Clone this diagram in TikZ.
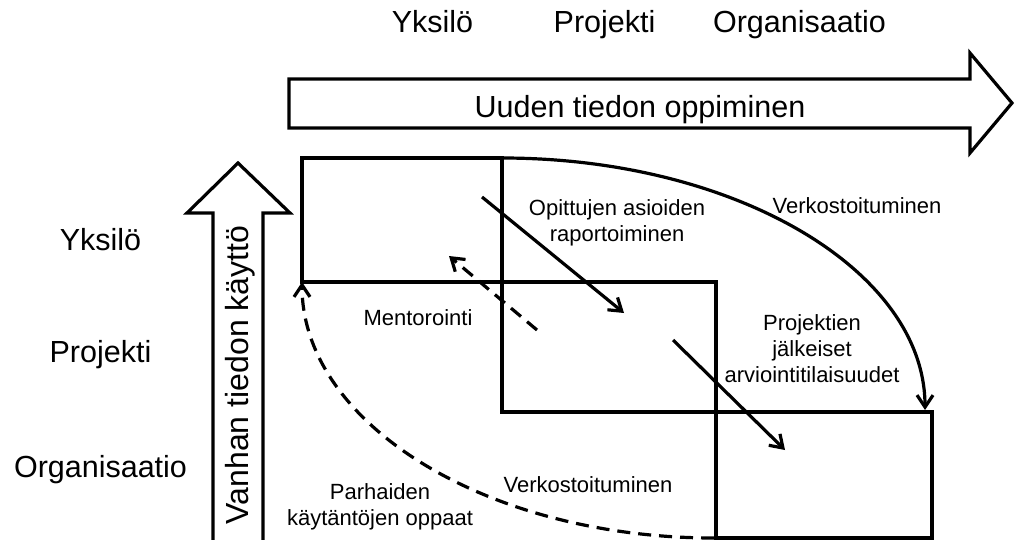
\documentclass[tikz,border=0pt]{standalone}
\usepackage{fontspec}
\setmainfont{Liberation Sans}
\usetikzlibrary{arrows.meta}
\begin{document}
\begin{tikzpicture}[x=1pt,y=-1pt,
  outline/.style={draw, line width=3.2pt, line join=miter},
  box/.style={draw, line width=3.2pt, inner sep=0pt, outer sep=0pt},
  big/.style={font=\fontsize{30.5}{36}\selectfont, inner sep=0pt},
  small/.style={font=\fontsize{22}{26}\selectfont, inner sep=0pt, align=center},
  flow/.style={line width=3.2pt, -{Straight Barb[length=12pt,width=16pt]}},
  flowdash/.style={flow, dash pattern=on 13pt off 8pt},
]
\useasboundingbox (0,0) rectangle (1016,540);
\fill[white] (0,0) rectangle (1016,540);
\clip (0,0) rectangle (1016,540);

% column headings
\node[big, anchor=base] (colY) at (432.5,33) {Yksilö};
\node[big, anchor=base] (colP) at (604.5,33) {Projekti};
\node[big, anchor=base] (colO) at (799.5,33) {Organisaatio};

% row headings
\node[big, anchor=base] (rowY) at (100.5,250) {Yksilö};
\node[big, anchor=base] (rowP) at (100.5,362) {Projekti};
\node[big, anchor=base] (rowO) at (100.5,477) {Organisaatio};

% horizontal block arrow
\draw[outline] (289,79) -- (970,79) -- (970,53) -- (1012,103) -- (970,153)
  -- (970,128) -- (289,128) -- cycle;
\node[big, anchor=base] (learn) at (640,118) {Uuden tiedon oppiminen};

% vertical block arrow
\draw[outline] (213,560) -- (213,213) -- (187,213) -- (238,163) -- (290,213)
  -- (263,213) -- (263,560);
\node[font=\fontsize{32}{38}\selectfont, inner sep=0pt, rotate=90, anchor=base]
  (use) at (248,375) {Vanhan tiedon käyttö};

% level boxes
\node[box, minimum width=200pt, minimum height=124pt] (b1) at (402,220) {};
\node[box, minimum width=214pt, minimum height=130pt] (b2) at (609,347) {};
\node[box, minimum width=216pt, minimum height=126pt] (b3) at (824,475) {};

% arrow end points
\coordinate (r1s) at (482,197);
\coordinate (r1e) at (624,313);
\coordinate (r2s) at (673,340);
\coordinate (r2e) at (785,450);
\coordinate (ms) at (537,330);
\coordinate (me) at (449,256);
\coordinate (k1) at (925,410);
\coordinate (d0) at (714,538);

% flows between levels
\draw[flow] (r1s) -- (r1e);
\draw[flow] (r2s) -- (r2e);
\draw[flowdash] (ms) -- (me);
\draw[flow] (b1.north east) .. controls (735.6,158) and (925,270.8) .. (k1);
\draw[flowdash] (d0) .. controls (486.5,538) and (302,423.4) .. (b1.south west);

% flow labels
\node[small] (report) at (617,223.3) {Opittujen asioiden\\raportoiminen};
\node[small, anchor=base] (mentor) at (418,325) {Mentorointi};
\node[small, anchor=base] (netTop) at (857,213) {Verkostoituminen};
\node[small] (review) at (812,349) {Projektien\\jälkeiset\\arviointitilaisuudet};
\node[small, anchor=base] (netBot) at (588,492) {Verkostoituminen};
\node[small] (guides) at (380,506.8) {Parhaiden\\käytäntöjen oppaat};
\end{tikzpicture}
\end{document}
